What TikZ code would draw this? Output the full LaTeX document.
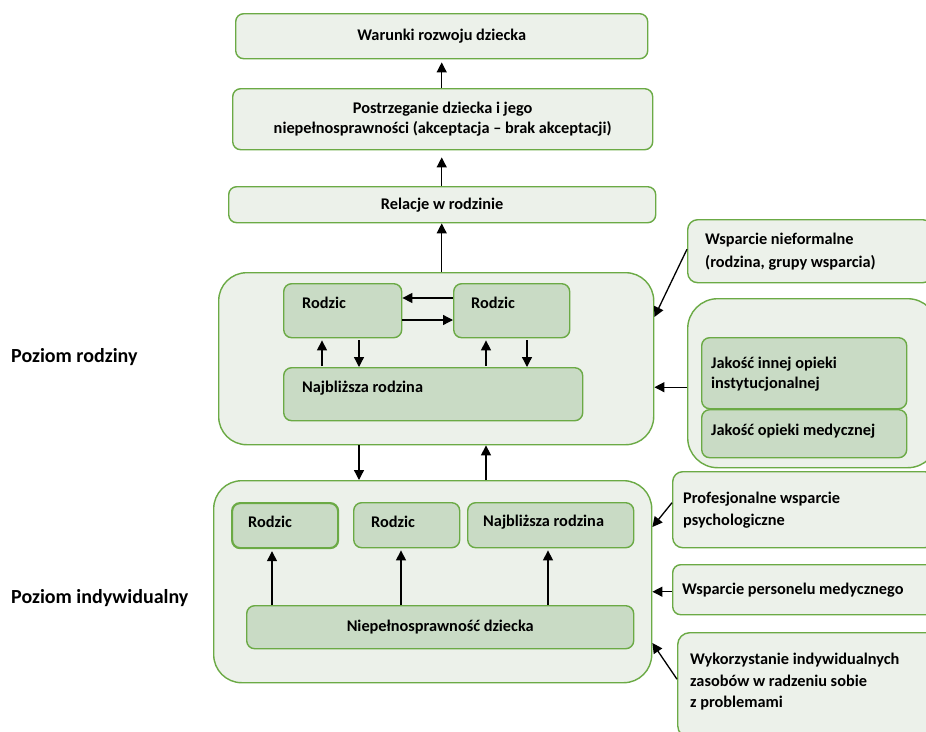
\documentclass[tikz,border=0pt]{standalone}
\usepackage{fontspec}
\setmainfont{Carlito}
\usetikzlibrary{arrows.meta,calc}
\definecolor{lightfill}{HTML}{ECF1EA}
\definecolor{darkfill}{HTML}{C9DBC5}
\definecolor{border}{HTML}{6BAA45}
\begin{document}
\begin{tikzpicture}[x=1pt,y=-1pt,
  every node/.style={font=\bfseries\fontsize{16.3}{20}\selectfont, text=black},
  obox/.style={draw=border, line width=1.4pt, fill=lightfill, rounded corners=8pt, rectangle, inner sep=0pt, anchor=north west},
  ibox/.style={draw=border, line width=1.4pt, fill=darkfill, rounded corners=8pt, rectangle, inner sep=0pt, anchor=north west},
  txt/.style={inner sep=0pt, anchor=west, align=left},
  lvl/.style={inner sep=0pt, anchor=west, font=\bfseries\fontsize{20}{24}\selectfont},
  arr/.style={line width=1.3pt, -{Triangle[length=10pt,width=10pt]}}
]
\useasboundingbox (0,0) rectangle (926,731);
\clip (0,0) rectangle (926,731);
\fill[white] (0,0) rectangle (926,731);

% top chain
\node[obox, minimum width=412, minimum height=45] (war) at (235,13) {Warunki rozwoju dziecka};
\node[obox, minimum width=420, minimum height=61, align=center] (post) at (232,88) {Postrzeganie dziecka i jego\\niepełnosprawności (akceptacja -- brak akceptacji)};
\node[obox, minimum width=427, minimum height=36] (rel) at (228,186) {Relacje w rodzinie};

% family level
\node[obox, rounded corners=28pt, minimum width=435, minimum height=172] (fam) at (218,272) {};
\node[ibox, minimum width=118, minimum height=54] (r1) at (283,283) {};
\node[txt] (r1t) at (302,303) {Rodzic};
\node[ibox, minimum width=116, minimum height=54] (r2) at (453,283) {};
\node[txt] (r2t) at (471,303) {Rodzic};
\node[ibox, minimum width=299, minimum height=53] (nr) at (283,367) {};
\node[txt] (nrt) at (302,388) {Najbliższa rodzina};

% individual level
\node[obox, rounded corners=28pt, minimum width=438, minimum height=202] (ind) at (213,480) {};
\node[ibox, line width=2.2pt, minimum width=106, minimum height=45] (ra) at (231,502) {};
\node[txt] (rat) at (248,522) {Rodzic};
\node[ibox, minimum width=106, minimum height=45] (rb) at (353,502) {};
\node[txt] (rbt) at (371,522) {Rodzic};
\node[ibox, minimum width=166, minimum height=45] (rn) at (467,502) {};
\node[txt] (rnt) at (483,522) {Najbliższa rodzina};
\node[ibox, minimum width=387, minimum height=43] (nd) at (246,605) {Niepełnosprawność dziecka};

% level labels
\node[lvl] (pr) at (11,357) {Poziom rodziny};
\node[lvl] (pi) at (11,598) {Poziom indywidualny};

% right side
\node[obox, rounded corners=10pt, minimum width=245, minimum height=63] (wn) at (687,219) {};
\node[txt, font=\bfseries\fontsize{16.3}{23}\selectfont] (wnt) at (705,251.5) {Wsparcie nieformalne\\(rodzina, grupy wsparcia)};
\node[obox, rounded corners=30pt, minimum width=250, minimum height=169] (grp) at (687,298) {};
\node[ibox, minimum width=205, minimum height=71] (jin) at (701,337) {};
\node[txt] (jint) at (711,374) {Jakość innej opieki\\instytucjonalnej};
\node[ibox, minimum width=205, minimum height=48] (jme) at (701,409) {};
\node[txt] (jmet) at (711,431) {Jakość opieki medycznej};

\node[obox, rounded corners=10pt, minimum width=262, minimum height=76] (prof) at (672,471) {};
\node[txt, font=\bfseries\fontsize{16.3}{22}\selectfont] (proft) at (683,510) {Profesjonalne wsparcie\\psychologiczne};
\node[obox, rounded corners=8pt, minimum width=262, minimum height=50] (pers) at (672,564) {};
\node[txt] (perst) at (682,590) {Wsparcie personelu medycznego};
\node[obox, rounded corners=12pt, minimum width=260, minimum height=105] (wyk) at (677,632) {};
\node[txt, font=\bfseries\fontsize{16.3}{21.5}\selectfont] (wykt) at (690,682) {Wykorzystanie indywidualnych\\zasobów w radzeniu sobie\\z problemami};

% arrows top chain
\draw[arr, shorten >=3pt] (post.north -| war.south) -- (war.south);
\draw[arr, shorten >=7pt] (rel.north -| war.south) -- (post.south -| war.south);
\draw[arr] (fam.north -| war.south) -- (rel.south -| war.south);

% family inner arrows
\draw[arr] ([yshift=-15pt]r2.north west) -- ([yshift=-15pt]r1.north east);
\draw[arr] ([yshift=-37pt]r1.north east) -- ([yshift=-37pt]r2.north west);
\draw[arr] ([xshift=39pt,yshift=1pt]nr.north west) -- ([xshift=39pt,yshift=-2pt]r1.south west);
\draw[arr] ([xshift=76pt,yshift=-2pt]r1.south west) -- ([xshift=76pt]nr.north west);
\draw[arr] ([xshift=203pt,yshift=1pt]nr.north west) -- ([xshift=33pt,yshift=-2pt]r2.south west);
\draw[arr] ([xshift=74pt,yshift=-2pt]r2.south west) -- ([xshift=244pt]nr.north west);

% between levels
\draw[arr] ([xshift=141pt]fam.south west) -- ([xshift=146pt]ind.north west);
\draw[arr] ([xshift=273pt]ind.north west) -- ([xshift=268pt]fam.south west);

% individual inner arrows
\draw[arr] ([xshift=26pt]nd.north west) -- ([xshift=41pt,yshift=-2pt]ra.south west);
\draw[arr] ([xshift=155pt]nd.north west) -- ([xshift=48pt,yshift=-2pt]rb.south west);
\draw[arr] ([xshift=302pt]nd.north west) -- ([xshift=81pt,yshift=-2pt]rn.south west);

% right side arrows
\draw[arr] ([yshift=2pt]wn.west) -- ([yshift=-45pt]fam.north east);
\draw[arr] ([yshift=-4pt]grp.west) -- ([yshift=-4pt]grp.west -| fam.east);
\draw[arr] ([yshift=7pt]prof.west) -- ([yshift=-47pt]ind.north east);
\draw[arr] ([yshift=-2pt]pers.west) -- ([yshift=-2pt]pers.west -| ind.east);
\draw[arr] ([yshift=6pt]wyk.west) -- ([yshift=-163pt]ind.north east);
\end{tikzpicture}
\end{document}
